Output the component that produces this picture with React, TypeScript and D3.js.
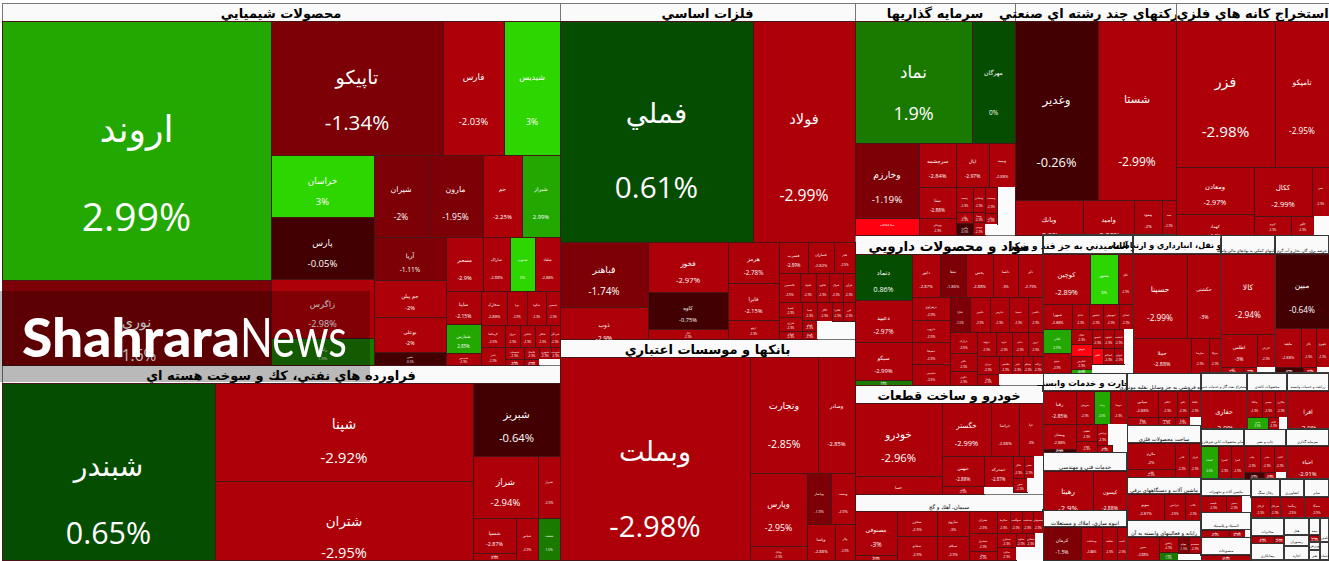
import React from 'react';
import * as d3 from 'd3';

type Node = { dir?: 'h' | 'v'; children?: Node[]; name?: string; pct?: number; value?: number; gap?: boolean; title?: string; sector?: boolean };

// market-weight helpers: H = side by side, V = stacked
const H = (...children: Node[]): Node => ({ dir: 'h', children });
const V = (...children: Node[]): Node => ({ dir: 'v', children });
const L = (name: string, pct: number, value: number): Node => ({ name, pct, value });
const G = (value: number): Node => ({ gap: true, value });
const T = (title: string, value: number): Node => ({ title, value });
const S = (title: string, titleWeight: number, body: Node): Node => ({ dir: 'v', sector: true, children: [T(title, titleWeight), body] });

const chemicals = S('محصولات شيميايي', 10044, H(
  V(L('اروند', 2.99, 69671), L('نوری', -1.6, 22865)),
  V(
    H(L('تاپیکو', -1.34, 23048), L('فارس', -2.03, 8107), L('شیدیس', 3, 7571)),
    H(
      V(L('خراسان', 3, 6386), L('پارس', -0.05, 6386), L('زاگرس', -2.98, 6077), L('رامان', 1.9, 2781)),
      V(
        H(L('شیران', -1.999, 4428), L('مارون', -1.95, 4469), L('جم', -2.25, 3239), L('شیراز', 2.99, 3116)),
        H(
          V(L('آریا', -1.11, 3075), L('جم پیلن', -2.001, 2646), L('بوعلی', -2.001, 2503), L('شفن', -0.5, 930)),
          V(
            H(L('مسعیر', -2.9, 2025), L('شاراک', -2.88, 1431), L('شدوپ', 3, 1377), L('شلعاد', -2.88, 1350)),
            H(
              V(L('ساینا', -2.15, 1172), L('شفارس', 2.85, 1030), L('شپدیس', -2.9, 426)),
              V(
                H(L('شخارک', -2.88, 860), L('نوپا', -2.9, 694), L('شگویا', -2.9, 639), L('شبصیر', -2.9, 493)),
                H(L('کرماشا', -2.9, 517), L('پترول', -2.9, 330), L('شکبیر', -2.9, 341), L('شکلر', -2.9, 330), L('شرنگی', -2.9, 220)),
                H(
                  L('غدیر', -2.9, 423),
                  V(
                    H(L('شصدف', -2.9, 234), L('پلاسک', -2.9, 180), L('شبهرن', -2.9, 144), L('شوینده', -2.9, 108)),
                    H(L('شلرد', -2.9, 117), L('شیمی', -2.9, 90), G(126)),
                  ),
                ),
              ),
            ),
          ),
        ),
      ),
    ),
  ),
));

const refinery = S('فراورده هاي نفتي، كك و سوخت هسته اي', 10044, H(
  L('شبندر', 0.65, 37701),
  V(L('شپنا', -2.92, 25284), L('شتران', -2.95, 20382)),
  V(
    L('شبریز', -0.64, 6351),
    H(L('شراز', -2.94, 4030), L('شیراز', -2.9, 1364)),
    H(V(L('شسپا', -2.87, 1505), L('شاوان', -2.9, 301)), L('شپاس', -2.9, 924), L('شنفت', 1.5, 924)),
  ),
));

const metals = S('فلزات اساسي', 5292, V(
  H(L('فملي', 0.61, 42432), L('فولاد', -2.99, 22542)),
  H(
    V(L('فباهنر', -1.74, 5720), L('ذوب', -2.9, 2816)),
    V(L('فخوز', -2.97, 3950), L('کاوه', -0.75, 2923), L('اپال', -2.9, 790)),
    V(L('هرمز', -2.78, 2112), L('فایرا', -2.15, 1906), L('ارفع', -2.9, 979)),
    V(
      H(L('فسرب', -2.89, 899), L('فسازان', -2.82, 806), L('فجر', -2.9, 636)),
      H(L('فاسمین', -2.9, 595), L('فلوله', -2.9, 464), L('فالوم', -2.9, 377), L('فنوال', -2.9, 406), L('فرآور', -2.9, 348)),
      H(
        V(L('فسپا', -2.9, 338), L('فنرژی', -2.9, 315), L('فولای', -2.9, 180)),
        V(L('فپنتا', -2.9, 270), L('فجام', -2.9, 165), L('فرود', -2.9, 120)),
        V(L('کگاز', -2.9, 285), G(270)),
        V(H(L('فافزا', -2.9, 209), L('فزر', -2.9, 228)), G(414)),
      ),
    ),
  ),
));

const banks = S('بانكها و موسسات اعتباري', 5292, H(
  L('وبملت', -2.98, 38367),
  V(
    H(L('وتجارت', -2.85, 7888), L('وصادر', -2.85, 4292)),
    H(
      V(L('وپارس', -2.95, 4161), L('وبانک', -2.9, 798)),
      V(
        H(L('وپاسار', -1.9, 1250), L('وپست', -2.9, 1199)),
        H(L('وپاسا', -2.88, 1026), L('وکار', -2.9, 702)),
      ),
    ),
  ),
));

const investment = S('سرمايه گذاريها', 2880, V(
  H(L('نماد', 1.9, 14274), L('مهرگان', 0, 5246)),
  H(
    V(L('وخارزم', -1.19, 4838), L('سکـ0412ـه', -5, 1097)),
    V(
      H(L('سرچشمه', -2.84, 1624), L('اپال', -2.97, 1469), L('وبیمه', -2.88, 1157)),
      H(
        V(L('سنا', -2.88, 1113), L('وبوعلی', -2.9, 621)),
        V(L('وسپه', -2.9, 408), L('وآذر', -2.9, 187), L('وآفری', -0.5, 212)),
        V(L('ومعادن', -2.9, 312), L('وصنا', -2.9, 125), L('وتوس', -2.9, 156)),
        V(L('وصنعت', -2.9, 288), L('ونیکی', -2.9, 126), G(132)),
        G(855),
      ),
    ),
  ),
));

const multiIndustry = S('شركتهاي چند رشته اي صنعتي', 2893, V(
  H(L('وغدیر', -0.26, 14857), L('شستا', -2.99, 13908)),
  H(L('وبانك', -2.9, 2380), L('وامید', -2.88, 1785), L('پیمود', -2.001, 963), L('صند', -2.9, 490)),
));

const mining = S('استخراج كانه هاي فلزي', 2759, V(
  H(L('فزر', -2.98, 14577), L('تامیکو', -2.95, 7882)),
  H(
    V(L('ومعادن', -2.97, 3627), L('کهماد', -2.9, 1638)),
    V(
      H(L('ککال', -2.99, 2813), L('مس', -2.9, 839)),
      H(L('کروی', -2.9, 703), L('کگهر', -2.9, 437), G(291)),
    ),
  ),
));

const pharma = S('مواد و محصولات دارويي', 3572, H(
  V(L('دتماد', 0.86, 2622), L('دعبید', -2.97, 2394), L('سیگو', -2.99, 2166), L('دفرا', 1.5, 285)),
  V(
    H(L('دابور', -2.87, 1204), L('شفا', -1.86, 1140), L('پخش', -2.88, 1140), L('دلقما', -3, 1097), L('دلر', -2.79, 1054)),
    H(
      V(L('دزهراوی', -2.9, 874), L('داروپ', -2.9, 836), L('دسبحا', -2.9, 855), L('دشیمی', -2.9, 779)),
      V(
        H(L('دفارا', -1.5, 718), L('دامین', -2.9, 683), L('دپارس', -2.9, 665), L('دسینا', -2.9, 665), L('دکیمی', -2.9, 525)),
        H(
          V(L('درازک', -2.9, 567), L('دالبر', -2.9, 486), L('دکوثر', -2.9, 378)),
          V(
            H(L('دتولید', -2.9, 456), L('داوه', -2.9, 384), L('ددام', -2.9, 384), L('دروز', -2.9, 360)),
            H(L('دیران', -2.9, 396), L('دقاضی', -2.9, 234), L('دلیر', -2.9, 198), L('تیپیکو', -2.9, 180), L('برکت', -2.9, 180)),
            H(L('شدا', -2.9, 242), G(484)),
          ),
        ),
      ),
    ),
  ),
));

const auto = S('خودرو و ساخت قطعات', 3384, H(
  V(L('خودرو', -2.96, 6351), L('خسا', -2.9, 1566)),
  V(
    H(L('خگستر', -2.99, 2597), L('خراسا', -2.88, 1511), L('خپا', -3, 1246)),
    H(
      V(L('خبهمن', -2.88, 1260), L('خزر', -2.9, 336)),
      V(L('خمحرکه', -2.87, 899), G(203)),
      V(
        H(L('خکار', -2.9, 242), L('خفنر', -2.9, 220), G(198)),
        H(L('ختور', -2.9, 196), G(224)),
        G(60),
      ),
    ),
  ),
));

const cement = S('سيمان، آهك و گچ', 3196, H(
  V(L('مصنوفی', -3, 1848), L('سبزوا', -2.9, 210)),
  V(L('سخزر', -2.9, 1000), L('سفانو', -2.9, 960)),
  V(L('ساروم', -3, 800), L('سیلام', -2.9, 768)),
  V(L('ستران', -2.9, 616), L('سشرق', -2.9, 504), L('سفار', -2.9, 252)),
  V(
    H(L('سکرما', -2.9, 286), L('سهگمت', -2.9, 264), L('سدشت', -2.9, 242), L('سصوفی', -2.9, 220)),
    H(L('سمازن', -2.9, 266), L('ساوه', -2.9, 140), L('سقاین', -2.9, 126), G(112)),
    H(L('سکرد', -2.9, 247), G(351)),
  ),
));

const food = S('غذايي و آشاميدني به جز قند و شكر', 1710, V(
  H(L('کوچین', -2.89, 2350), L('مشهر', 3, 1425), L('غگل', -2.9, 725)),
  H(L('غمهرا', -2.88, 725), L('غدام', -2.9, 425), L('غبشهر', -2.9, 350), L('غبهنوش', -2.9, 400), L('غشان', -2.9, 350)),
  H(
    V(L('غاذر', 2.5, 698), L('غپینو', -2.9, 556)),
    V(L('غپاک', -2.9, 308), L('غنوش', -5, 246), L('غفارس', -2.9, 267), L('غگرجی', 2.5, 82)),
    V(
      H(L('غمینو', -2.9, 209), L('غشهد', -2.9, 209), L('غدشت', -2.9, 190), G(171)),
      H(L('غالبر', -5, 176), L('غسالم', -2.9, 176), L('غیوان', -2.9, 160), G(144)),
      G(369),
    ),
  ),
));

const transport = S('حمل و نقل، انبارداري و ارتباطات', 1672, V(
  H(L('حسینا', -2.99, 4536), L('حکشتی', -3, 2856)),
  H(L('حملا', -2.88, 2030), L('حپارسا', -2.9, 630), L('حتوکا', -2.9, 420)),
));

const kalaSector = S('فعاليتهاي كمكي به نهادهاي مالي واسط', 1032, V(
  L('کالا', -2.94, 4344),
  H(L('اطلس', -3, 1175), L('کاردان', -2.9, 617)),
  H(L('آگاه', -2.9, 132), L('مفید', -2.9, 84), G(110)),
));

const utilities = S('عرضه برق، گاز، بخار و آب گرم', 1020, V(
  L('مبین', -0.64, 3974),
  H(L('ماهید', -2.88, 1014), L('بگاز', -2.9, 585), L('بکهنوج', -2.9, 495)),
  H(L('بفجر', -0.5, 168), L('بپاس', -2.9, 84), G(70)),
));

const trade = S('تجارت و خدمات وابسته', 1512, V(
  H(L('رفنا', -2.85, 1106), L('بفروش', -2.9, 594), L('رتاپ', 2.5, 528), L('ثنوسا', -2.9, 545)),
  H(
    V(L('ومشان', -2.88, 838), L('ثبهساز', -0.5, 100)),
    V(L('لطیف', -2.9, 349), L('سپ', -2.9, 226)),
    V(H(L('بترانس', -2.9, 231), G(84)), L('بالبر', -2.9, 105)),
    G(420),
  ),
));

const engineering = S('خدمات فني و مهندسي', 1596, H(L('رهیتا', -2.9, 1950), L('کیسون', -2.88, 1326)));

const construction = S('انبوه سازي، املاك و مستغلات', 1428, H(
  L('کرمان', -1.5, 1254),
  L('وساخت', -2.88, 693),
  L('ثشاهد', -2.9, 495),
  L('ثاخت', -2.9, 330),
));

const retail = S('خرده فروشي به جز وسايل نقليه موتوري', 1332, V(
  H(L('سپاس', -2.88, 819), L('اتکام', -2.9, 494), L('تکنو', -2.9, 312), L('تکشا', -2.9, 299)),
  H(L('وتوکا', -2.9, 252), L('خریخت', -2.9, 132), L('تایرا', -2.9, 120), G(88)),
));

const metalProducts = S('ساخت محصولات فلزي', 1332, H(
  V(L('ملازم', -2.001, 1248), L('فلزر', -2.9, 384)),
  L('فاذر', -2.9, 476),
  L('فریل', -2.9, 408),
));

const electrical = S('ماشين آلات و دستگاههاي برقي', 1258, H(L('بموتو', -2.87, 962), L('بترانس', -2.9, 546), L('بکاب', -2.9, 416)));

const computing = S('رايانه و فعاليتهاي وابسته به آن', 1295, H(
  L('مبین', -2.88, 720),
  V(L('رانفور', -2.9, 285), L('سپ', 1.5, 143)),
  V(H(L('مهام', -1.5, 165), L('سیستم', -2.9, 180)), G(172)),
));

const drilling = S('استخراج نفت گاز و خدمات جنبي', 823, L('حفاری', -2.9, 1737));
const paper = S('محصولات كاغذي', 725, V(
  H(L('چکاپا', -2.9, 405), L('چفیبر', -2.9, 345), L('چکارن', -2.9, 318)),
  H(L('چدن', 2.5, 247), L('کاغذ', -2.9, 127), G(90)),
));
const farming = S('زراعت و خدمات وابسته', 756, L('افرا', -2.9, 1596));
const minerals = S('ساير محصولات كاني غيرفلزي', 731, H(L('کساپا', 2.5, 561), L('کسرا', -2.9, 429), L('کفرا', -2.9, 429)));
const publishing = S('چاپ و نشر', 714, V(
  H(L('چاپ', -2.9, 416), L('نشر', -2.9, 364), L('کتاب', -2.9, 312)),
  H(L('چپر', -0.5, 140), L('نوین', -2.9, 84), G(70)),
));
const insurance = S('سرمايه گذاري', 731, L('احیاء', -2.91, 1419));

const tinyA = S('ماشين آلات و تجهيزات', 875, H(L('تلیسه', -2.9, 388), L('تپمپی', -2.9, 248), G(140)));
const tinyB = S('لاستيك و پلاستيك', 900, H(L('پتایر', -2.9, 196), L('پکرمان', -2.9, 112), G(42)));
const tinyC = S('منسوجات', 900, L('نطرین', -2.9, 250));
const tinyD = S('زغال سنگ', 522, H(L('کزغال', -2.9, 399), L('شزغال', -2.9, 210)));
const tinyE = S('كشاورزي', 432, L('زمگسا', -2.9, 504));
const tinyF = S('ساير', 450, L('سمگا', -2.9, 525));
const tinyG = S('مخابرات', 594, H(L('اخابر', -2.9, 161), L('همراه', -2.9, 70)));
const tinyH: Node = T('پيمانكاري', 561);
const tinyI = V(T('هتل', 425), T('رستوران', 275), T('اجاره', 350));
const tinyJ = V(T('بيمه', 187), L('بساما', -2.9, 77), T('ورزش', 88), T('هنر', 110));
const tinyK = V(T('تامين', 216), T('خدمات', 162));

const marketTree: Node = H(
  V(chemicals, refinery),
  V(metals, banks),
  V(
    H(investment, multiIndustry, mining),
    H(
      V(pharma, auto, cement),
      V(
        H(food, transport, kalaSector, utilities),
        H(
          V(trade, engineering, construction),
          V(retail, metalProducts, electrical, computing),
          V(
            H(drilling, paper, farming),
            H(minerals, publishing, insurance),
            H(
              V(tinyA, tinyB, tinyC),
              V(
                H(tinyD, tinyE, tinyF),
                H(V(tinyG, tinyH), tinyI, tinyJ, tinyK),
              ),
            ),
          ),
        ),
      ),
    ),
  ),
);

// size of the sector captions
const titleSizes: Record<string, number> = {
  'محصولات شيميايي': 13, 'فراورده هاي نفتي، كك و سوخت هسته اي': 13, 'فلزات اساسي': 13,
  'بانكها و موسسات اعتباري': 13, 'سرمايه گذاريها': 13, 'شركتهاي چند رشته اي صنعتي': 13,
  'استخراج كانه هاي فلزي': 13, 'مواد و محصولات دارويي': 13.5, 'خودرو و ساخت قطعات': 12.5,
  'غذايي و آشاميدني به جز قند و شكر': 9, 'حمل و نقل، انبارداري و ارتباطات': 8,
  'تجارت و خدمات وابسته': 8.5,
};

// cells whose full rectangle runs past the edge of their group: true height / visible height
const overflow: Record<string, number> = {
  'نوری': 1.18, 'شتران': 1.2, 'وبانك': 1.35, 'وامید': 1.35, 'خسا': 1.5, 'کهماد': 1.4,
  'افرا': 1.3, 'حفاری': 1.3, 'احیاء': 1.15, 'رهیتا': 1.28, 'کیسون': 1.28, 'ذوب': 1.3,
  'شبندر': 1.12, 'وبملت': 1.11, 'فولاد': 1.05, 'وغدیر': 1.05, 'شستا': 1.05,
};

const colorScale = d3.scaleThreshold<number, string>()
  .domain([-3.5, -2, -1, 0, 1, 2, 3])
  .range(['#ff0010', '#ae0008', '#7c0006', '#420002', '#054d00', '#1a7a00', '#22a800', '#2ed600']);

const pctText = (p: number) => `${+p.toFixed(2)}%`;
const WIDTH = 1329, HEIGHT = 561;

const tile = (node: any, x0: number, y0: number, x1: number, y1: number) =>
  (node.data.dir === 'h' ? d3.treemapDice : d3.treemapSlice)(node, x0, y0, x1, y1);

const FONT = '"DejaVu Sans", sans-serif';
const PCT_FONT = '"Open Sans", "DejaVu Sans", sans-serif';

export default function App() {
  const root = d3.hierarchy<Node>(marketTree, d => d.children).sum(d => (d.children ? 0 : d.value ?? 0));
  d3.treemap<Node>().tile(tile as any).size([WIDTH - 2, HEIGHT - 4]).round(true)(root as any);
  const nodes = (root as any).descendants() as any[]; // pre-order: later groups paint over earlier text

  return (
    <svg width={WIDTH} height={HEIGHT} style={{ position: 'absolute', left: 0, top: 0, display: 'block', background: '#fff' }} fontFamily={FONT}>
      <g transform="translate(2,3)" shapeRendering="crispEdges">
        {nodes.map((n, i) => {
          const w = n.x1 - n.x0, h = n.y1 - n.y0, d: Node = n.data;
          if (d.children) return null;
          if (d.gap) return <rect key={i} x={n.x0} y={n.y0} width={w} height={h} fill="#fbfbfb" />;
          if (d.title) {
            const fs = titleSizes[d.title] ?? Math.max(3.5, Math.min(5.5, w / 14));
            const big = w > 100;
            return (
              <g key={i}>
                <rect x={n.x0} y={n.y0} width={w} height={h} fill="#fafafa" stroke={big ? '#777' : '#3a3a3a'} strokeWidth={big ? 1 : 1.5} />
                <text x={(n.x0 + n.x1) / 2} y={fs >= 8 ? (n.y0 + n.y1) / 2 + 1 : n.y1 - 4} textAnchor="middle" dominantBaseline="central"
                  fontSize={fs} fontWeight={fs >= 8 ? 700 : 400} fill="#000" direction="rtl" shapeRendering="auto">{d.title}</text>
              </g>
            );
          }
          const trueH = h * (overflow[d.name!] ?? 1);
          const fs = Math.max(3, Math.min(39, Math.min(w, trueH) / 6.5));
          return (
            <g key={i}>
              <rect x={n.x0} y={n.y0} width={w} height={h} fill={colorScale(d.pct!)} stroke="#4a1418" strokeWidth={1} />
              <g fill="#fff" textAnchor="middle" dominantBaseline="central" shapeRendering="auto">
                <text x={(n.x0 + n.x1) / 2} y={n.y0 + trueH * 0.42} fontSize={fs * 0.93}>{d.name}</text>
                {d.pct! > -4 && <text x={(n.x0 + n.x1) / 2} y={n.y0 + trueH * 0.75} direction="ltr" fontSize={fs} fontFamily={PCT_FONT}>{pctText(d.pct!)}</text>}
              </g>
            </g>
          );
        })}
        {nodes.filter(n => n.data.sector && n.x1 - n.x0 < 100).map((n, i) => (
          <rect key={i} x={n.x0} y={n.y0} width={n.x1 - n.x0} height={n.y1 - n.y0} fill="none" stroke="#333" strokeWidth={1} />
        ))}
      </g>
      <rect x={0} y={291} width={370} height={91} fill="#000" opacity={0.26} />
      <g fill="#fff" fontFamily="Lato, sans-serif" fontSize={54}>
        <text x={22} y={357} fontWeight={900} textLength={218} lengthAdjust="spacingAndGlyphs">Shahrara</text>
        <text x={240} y={357} fontWeight={400} textLength={107} lengthAdjust="spacingAndGlyphs">News</text>
      </g>
    </svg>
  );
}
